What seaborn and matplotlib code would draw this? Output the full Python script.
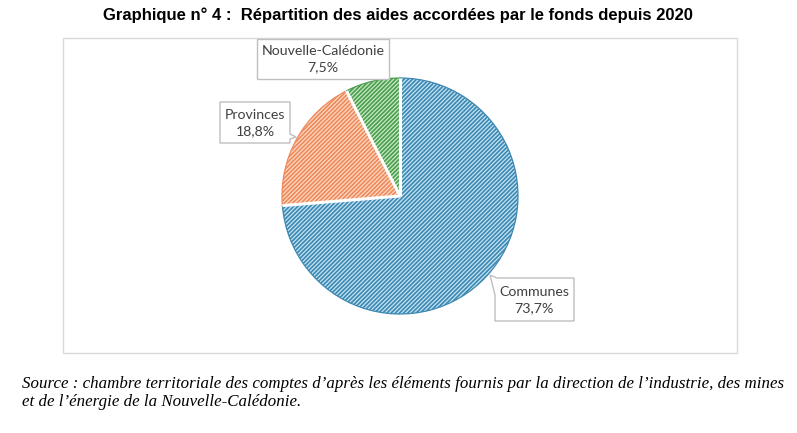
import numpy as np
import matplotlib
matplotlib.use("Agg")
import matplotlib.pyplot as plt
import seaborn as sns
from matplotlib.patches import Rectangle, Polygon

# Données du graphique
categories = ["Communes", "Provinces", "Nouvelle-Calédonie"]
parts = [73.7, 18.8, 7.5]
labels_pct = ["73,7%", "18,8%", "7,5%"]

titre = "Graphique n° 4 :  Répartition des aides accordées par le fonds depuis 2020"
source = ("Source : chambre territoriale des comptes d’après les éléments fournis par la direction de l’industrie, des mines\n"
          "et de l’énergie de la Nouvelle-Calédonie.")

sns.set_theme(style="white")
plt.rcParams["hatch.linewidth"] = 1.2

fond = ["#c3e4f3", "#fdd9c4", "#c8eac2"]
traits = ["#3d88b2", "#ef8a5c", "#4a9d4f"]

W, H = 797, 433
fig = plt.figure(figsize=(W / 100, H / 100), dpi=100)

def px(x, y):
    return (x / W, 1 - y / H)

# cadre du graphique
fig.patches.append(Rectangle(px(63, 353), (737 - 63) / W, (353 - 38) / H,
                             transform=fig.transFigure, fill=False,
                             edgecolor="#d9d9d9", linewidth=1))

# axe du camembert : centre (400,196), rayon 118 px
cx, cy, r = 400, 196, 118
ax = fig.add_axes([(cx - r) / W, 1 - (cy + r) / H, 2 * r / W, 2 * r / H])
wedges, _ = ax.pie(parts, startangle=90, counterclock=False, radius=1,
                   colors=fond, wedgeprops=dict(linewidth=0.9))
for w, c in zip(wedges, traits):
    w.set_edgecolor(c)
    w.set_hatch("////////")

# séparateurs blancs entre les parts
for w in wedges:
    a = np.deg2rad(w.theta1)
    ax.plot([0, np.cos(a)], [0, np.sin(a)], color="white", linewidth=2.2,
            solid_capstyle="butt", zorder=5)
ax.set_xlim(-1, 1)
ax.set_ylim(-1, 1)
ax.set_aspect("equal")
ax.axis("off")

# bulles des étiquettes (contours en pixels de la figure)
bulles = {
    "Communes": [(574, 278), (497, 278), (490, 275), (495, 295), (495, 321), (574, 321)],
    "Provinces": [(220, 102), (290, 102), (290, 134), (296, 137), (290, 139), (290, 143), (220, 143)],
    "Nouvelle-Calédonie": [(257, 39), (389, 39), (389, 79), (257, 79)],
}
centres = {"Communes": (534, 300), "Provinces": (255, 123), "Nouvelle-Calédonie": (323, 59)}
for cat, pct in zip(categories, labels_pct):
    fig.patches.append(Polygon([px(*p) for p in bulles[cat]], closed=True,
                               transform=fig.transFigure, facecolor="white",
                               edgecolor="#bfbfbf", linewidth=1, zorder=3))
    tx, ty = centres[cat]
    fig.text(*px(tx, ty), f"{cat}\n{pct}", ha="center", va="center",
             fontsize=10.2, color="#404040", family="Lato", linespacing=1.45, zorder=4)

fig.text(*px(398, 15), titre, ha="center", va="center", fontsize=12,
         fontweight="bold", family="Liberation Sans", color="black")
fig.text(*px(22, 393), source, ha="left", va="center", fontsize=12.2,
         style="italic", family="Liberation Serif", color="black", linespacing=1.15)

fig.savefig("out.png", dpi=100, facecolor="white")
